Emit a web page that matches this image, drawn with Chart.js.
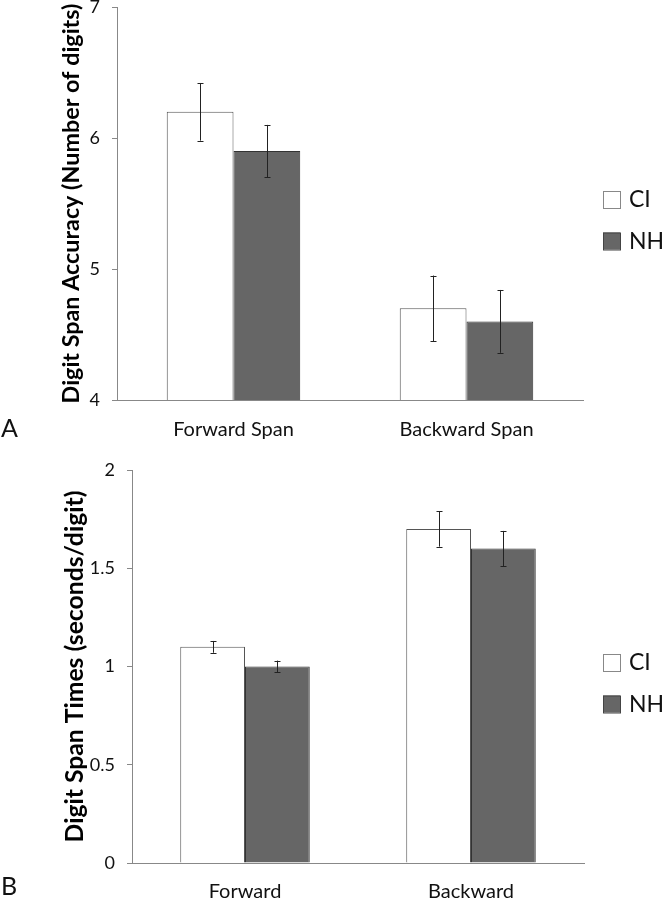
<!DOCTYPE html>
<html>
<head>
<meta charset="utf-8">
<script src="https://cdn.jsdelivr.net/npm/chart.js@4.4.1/dist/chart.umd.min.js"></script>
<style>
  html, body { margin: 0; padding: 0; background: #fff; }
  canvas { display: block; }
</style>
</head>
<body>
<canvas id="chartA" width="664" height="450"></canvas>
<canvas id="chartB" width="664" height="450"></canvas>
<script>
// ---- Data ----
const seriesNames = ['CI', 'NH'];

const categoriesA = ['Forward Span', 'Backward Span'];
const ciAccuracy = [6.2, 4.7];
const nhAccuracy = [5.9, 4.6];
const ciAccuracyErr = [0.22, 0.25];
const nhAccuracyErr = [0.2, 0.24];
const ticksA = { min: 4, max: 7, step: 1 };

const categoriesB = ['Forward', 'Backward'];
const ciTimes = [1.1, 1.7];
const nhTimes = [1.0, 1.6];
const ciTimesErr = [0.03, 0.09];
const nhTimesErr = [0.03, 0.09];
const ticksB = { min: 0, max: 2, step: 0.5 };

const FONT = 'Lato, "Open Sans", sans-serif';
const fills = ['#ffffff', '#666666'];
const borders = ['#555555', '#333333'];

// font size so that a text spans a given length
function fitSize(text, targetLen, weight) {
  const c = document.createElement('canvas').getContext('2d');
  c.font = weight + ' 100px ' + FONT;
  return 100 * targetLen / c.measureText(text).width;
}

const errorBarPlugin = {
  id: 'errorBars',
  afterDatasetsDraw(chart) {
    const ctx = chart.ctx;
    const yScale = chart.scales.y;
    ctx.save();
    ctx.strokeStyle = '#222';
    ctx.lineWidth = 1;
    chart.data.datasets.forEach((ds, i) => {
      const meta = chart.getDatasetMeta(i);
      meta.data.forEach((el, j) => {
        const v = ds.data[j], e = ds.errors[j];
        const x = Math.round(el.x) + 0.5;
        const y1 = yScale.getPixelForValue(v + e);
        const y2 = yScale.getPixelForValue(v - e);
        ctx.beginPath();
        ctx.moveTo(x, y1); ctx.lineTo(x, y2);
        ctx.moveTo(x - 3, Math.round(y1) + 0.5); ctx.lineTo(x + 3, Math.round(y1) + 0.5);
        ctx.moveTo(x - 3, Math.round(y2) + 0.5); ctx.lineTo(x + 3, Math.round(y2) + 0.5);
        ctx.stroke();
      });
    });
    ctx.restore();
  }
};

const legendPlugin = {
  id: 'customLegend',
  afterDraw(chart, args, opts) {
    const ctx = chart.ctx;
    ctx.save();
    chart.data.datasets.forEach((ds, i) => {
      const bx = opts.x, by = opts.y + i * 41.5;
      ctx.fillStyle = ds.backgroundColor;
      ctx.fillRect(bx, by, 17, 17);
      ctx.strokeStyle = i === 0 ? '#888' : '#444';
      ctx.lineWidth = 1;
      ctx.strokeRect(bx + 0.5, by + 0.5, 17, 17);
      ctx.fillStyle = '#111';
      ctx.font = '23px ' + FONT;
      ctx.textBaseline = 'middle';
      ctx.textAlign = 'left';
      ctx.fillText(ds.label, bx + 26, by + 9);
    });
    ctx.font = '25px ' + FONT;
    ctx.textBaseline = 'alphabetic';
    ctx.fillStyle = '#111';
    ctx.fillText(opts.letter, 1, opts.letterY);
    ctx.restore();
  }
};

function makeChart(id, labels, ci, nh, ciErr, nhErr, t, cfg) {
  const titleSize = fitSize(cfg.title, cfg.titleLen, 'bold');
  const titlePad = cfg.titleCenter - titleSize * 1.2 / 2;
  return new Chart(document.getElementById(id), {
    type: 'bar',
    data: {
      labels: labels,
      datasets: [
        { label: seriesNames[0], data: ci, errors: ciErr, backgroundColor: fills[0], borderColor: borders[0], borderWidth: 1 },
        { label: seriesNames[1], data: nh, errors: nhErr, backgroundColor: fills[1], borderColor: borders[1], borderWidth: 1 }
      ]
    },
    options: {
      responsive: false,
      animation: false,
      devicePixelRatio: 1,
      layout: { padding: { top: cfg.top, right: cfg.right, left: 0, bottom: 0 } },
      datasets: { bar: { categoryPercentage: 0.573, barPercentage: 1.0 } },
      plugins: {
        legend: { display: false },
        tooltip: { enabled: false },
        customLegend: { x: 603, y: cfg.legendY, letter: cfg.letter, letterY: cfg.letterY }
      },
      scales: {
        x: {
          grid: { display: true, drawOnChartArea: false, drawTicks: false, color: '#888' },
          border: { display: true, color: '#888', width: 1 },
          ticks: { font: { family: FONT, size: 20 }, color: '#111', padding: cfg.xPad, maxRotation: 0 },
          afterFit(scale) { scale.height = cfg.xHeight; scale.paddingLeft = 0; scale.paddingRight = 0; }
        },
        y: {
          min: t.min, max: t.max,
          ticks: { stepSize: t.step, font: { family: FONT, size: 18 }, color: '#111', padding: 12,
                   callback: v => String(v) },
          grid: { display: true, drawOnChartArea: false, drawTicks: true, tickLength: 5, color: '#888' },
          border: { display: true, color: '#888', width: 1 },
          title: {
            display: true, text: cfg.title, color: '#000',
            font: { family: FONT, size: titleSize, weight: 'bold' },
            padding: { top: titlePad, bottom: 0 }
          },
          afterFit(scale) { scale.width = cfg.yWidth; scale.paddingTop = 0; scale.paddingBottom = 0; }
        }
      }
    },
    plugins: [errorBarPlugin, legendPlugin]
  });
}

makeChart('chartA', categoriesA, ciAccuracy, nhAccuracy, ciAccuracyErr, nhAccuracyErr, ticksA, {
  top: 7, right: 81, yWidth: 117, xHeight: 50, xPad: 18, titleLen: 400, titleCenter: 71,
  title: 'Digit Span Accuracy (Number of digits)', legendY: 191, letter: 'A', letterY: 437
});

makeChart('chartB', categoriesB, ciTimes, nhTimes, ciTimesErr, nhTimesErr, ticksB, {
  top: 20, right: 80, yWidth: 132, xHeight: 37, xPad: 17, titleLen: 352, titleCenter: 75,
  title: 'Digit Span Times (seconds/digit)', legendY: 204, letter: 'B', letterY: 445
});
</script>
</body>
</html>
